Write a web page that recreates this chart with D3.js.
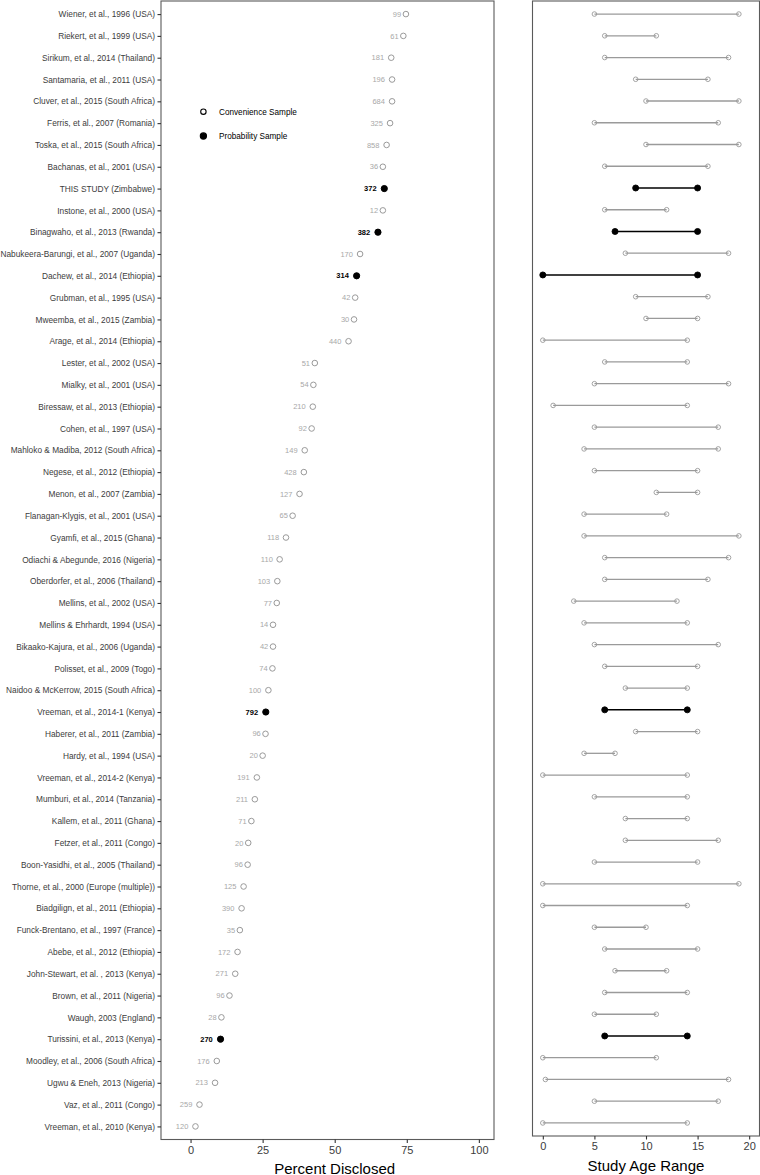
<!DOCTYPE html>
<html><head><meta charset="utf-8">
<script src="https://cdn.jsdelivr.net/npm/d3@7"></script>
<style>body{margin:0;background:#fff;}svg{display:block;font-family:"Liberation Sans",Arial,sans-serif;}</style>
</head><body><svg id="c" width="760" height="1175"></svg>
<script>
const studies = ["Wiener, et al., 1996 (USA)","Riekert, et al., 1999 (USA)","Sirikum, et al., 2014 (Thailand)","Santamaria, et al., 2011 (USA)","Cluver, et al., 2015 (South Africa)","Ferris, et al., 2007 (Romania)","Toska, et al., 2015 (South Africa)","Bachanas, et al., 2001 (USA)","THIS STUDY (Zimbabwe)","Instone, et al., 2000 (USA)","Binagwaho, et al., 2013 (Rwanda)","Nabukeera-Barungi, et al., 2007 (Uganda)","Dachew, et al., 2014 (Ethiopia)","Grubman, et al., 1995 (USA)","Mweemba, et al., 2015 (Zambia)","Arage, et al., 2014 (Ethiopia)","Lester, et al., 2002 (USA)","Mialky, et al., 2001 (USA)","Biressaw, et al., 2013 (Ethiopia)","Cohen, et al., 1997 (USA)","Mahloko & Madiba, 2012 (South Africa)","Negese, et al., 2012 (Ethiopia)","Menon, et al., 2007 (Zambia)","Flanagan-Klygis, et al., 2001 (USA)","Gyamfi, et al., 2015 (Ghana)","Odiachi & Abegunde, 2016 (Nigeria)","Oberdorfer, et al., 2006 (Thailand)","Mellins, et al., 2002 (USA)","Mellins & Ehrhardt, 1994 (USA)","Bikaako-Kajura, et al., 2006 (Uganda)","Polisset, et al., 2009 (Togo)","Naidoo & McKerrow, 2015 (South Africa)","Vreeman, et al., 2014-1 (Kenya)","Haberer, et al., 2011 (Zambia)","Hardy, et al., 1994 (USA)","Vreeman, et al., 2014-2 (Kenya)","Mumburi, et al., 2014 (Tanzania)","Kallem, et al., 2011 (Ghana)","Fetzer, et al., 2011 (Congo)","Boon-Yasidhi, et al., 2005 (Thailand)","Thorne, et al., 2000 (Europe (multiple))","Biadgilign, et al., 2011 (Ethiopia)","Funck-Brentano, et al., 1997 (France)","Abebe, et al., 2012 (Ethiopia)","John-Stewart, et al. , 2013 (Kenya)","Brown, et al., 2011 (Nigeria)","Waugh, 2003 (England)","Turissini, et al., 2013 (Kenya)","Moodley, et al., 2006 (South Africa)","Ugwu & Eneh, 2013 (Nigeria)","Vaz, et al., 2011 (Congo)","Vreeman, et al., 2010 (Kenya)"];
const percentDisclosed = [74.7,73.8,69.6,69.9,69.9,69.2,68.0,66.7,67.2,66.7,65.0,58.8,57.6,57.1,56.7,54.8,43.1,42.6,42.4,42.0,39.6,39.3,37.8,35.4,33.1,30.9,30.1,29.9,28.6,28.6,28.4,27.0,26.1,26.0,25.0,23.0,22.3,21.1,20.0,19.8,18.4,17.7,17.1,16.3,15.5,13.5,10.7,10.4,9.1,8.5,3.1,1.7];
const sampleSize = [99,61,181,196,684,325,858,36,372,12,382,170,314,42,30,440,51,54,210,92,149,428,127,65,118,110,103,77,14,42,74,100,792,96,20,191,211,71,20,96,125,390,35,172,271,96,28,270,176,213,259,120];
const probabilitySample = [0,0,0,0,0,0,0,0,1,0,1,0,1,0,0,0,0,0,0,0,0,0,0,0,0,0,0,0,0,0,0,0,1,0,0,0,0,0,0,0,0,0,0,0,0,0,0,1,0,0,0,0];
const ageMin = [5,6,6,9,10,5,10,6,9,6,7,8,0,9,10,0,6,5,1,5,4,5,11,4,4,6,6,3,4,5,6,8,6,9,4,0,5,8,8,5,0,0,5,6,7,6,5,6,0,0.25,5,0];
const ageMax = [19,11,18,16,19,17,19,16,15,12,15,18,15,16,15,14,14,18,14,17,17,15,15,12,19,18,16,13,14,17,15,14,14,15,7,14,14,14,17,15,19,14,10,15,12,14,11,14,11,18,17,14];
const percentTicks = [0,25,50,75,100];
const ageTicks = [0,5,10,15,20];
const legendLabels = ["Convenience Sample","Probability Sample"];

const rows = studies.map((s,i)=>({study:s,pct:percentDisclosed[i],n:sampleSize[i],prob:probabilitySample[i]===1,lo:ageMin[i],hi:ageMax[i]}));
const svg = d3.select("#c");
const GREY = "#9a9a9a";

// ---------- Left panel ----------
const L = {x0:161, x1:494, y0:1, y1:1139.5};
const xL = d3.scaleLinear().domain([-10.25,105.25]).range([L.x0,L.x1]);
const yL = d3.scalePoint().domain(studies).range([L.y0,L.y1]).padding(0.6);

const gL = svg.append("g");
gL.append("rect").attr("x",L.x0).attr("y",L.y0).attr("width",L.x1-L.x0).attr("height",L.y1-L.y0)
  .attr("fill","none").attr("stroke","#5a5a5a").attr("stroke-width",1.1);

// y axis
const yAx = gL.append("g").attr("transform",`translate(${L.x0},0)`)
  .call(d3.axisLeft(yL).tickSize(3.5).tickPadding(2.5));
yAx.select(".domain").remove();
yAx.selectAll("line").attr("stroke","#333").attr("stroke-width",1.1);
yAx.selectAll("text").attr("font-size","8.3px").attr("fill","#3c3c3c").attr("font-family","Liberation Sans, Arial, sans-serif");

// x axis
const xAx = gL.append("g").attr("transform",`translate(0,${L.y1})`)
  .call(d3.axisBottom(xL).tickValues(percentTicks).tickSize(3.5).tickPadding(3));
xAx.select(".domain").remove();
xAx.selectAll("line").attr("stroke","#333").attr("stroke-width",1.1);
xAx.selectAll("text").attr("font-size","11px").attr("fill","#3c3c3c").attr("font-family","Liberation Sans, Arial, sans-serif");
gL.append("text").attr("x",(xL(0)+xL(100))/2).attr("y",1173.5).attr("text-anchor","middle")
  .attr("font-size","15px").attr("fill","#000").text("Percent Disclosed");

// points
gL.selectAll("circle.pt").data(rows).join("circle").attr("class","pt")
  .attr("cx",d=>xL(d.pct)).attr("cy",d=>yL(d.study))
  .attr("r",d=>d.prob?3.1:2.8)
  .attr("fill",d=>d.prob?"#000":"none")
  .attr("stroke",d=>d.prob?"#000":GREY).attr("stroke-width",1);

// value labels
gL.selectAll("text.val").data(rows).join("text").attr("class","val")
  .attr("y",d=>yL(d.study)).attr("dy","0.35em")
  .attr("font-size","7.5px")
  .attr("font-weight",d=>d.prob?"bold":"normal")
  .attr("fill",d=>d.prob?"#000":"#a8a8a8")
  .attr("text-anchor","end")
  .text(d=>d.n)
  .each(function(d){
    const w = this.getComputedTextLength();
    d3.select(this).attr("x", xL(d.pct) - 0.57*w - (d.prob?0.6:0));
  });

// legend
const leg = gL.append("g");
const legY = [111.7,136];
leg.selectAll("circle").data(legendLabels).join("circle")
  .attr("cx",203.4).attr("cy",(d,i)=>legY[i]).attr("r",(d,i)=>i?3.1:2.7)
  .attr("fill",(d,i)=>i?"#000":"none").attr("stroke","#000").attr("stroke-width",1.1);
leg.selectAll("text").data(legendLabels).join("text")
  .attr("x",219).attr("y",(d,i)=>legY[i]).attr("dy","0.35em")
  .attr("font-size","8.2px").attr("fill","#000").text(d=>d);

// ---------- Right panel ----------
const R = {x0:532.5, x1:759.5, y0:1, y1:1136};
const xR = d3.scaleLinear().domain([-1,21]).range([R.x0,R.x1]);
const yR = d3.scalePoint().domain(studies).range([R.y0,R.y1]).padding(0.6);
const gR = svg.append("g");
gR.append("rect").attr("x",R.x0).attr("y",R.y0).attr("width",R.x1-R.x0).attr("height",R.y1-R.y0)
  .attr("fill","none").attr("stroke","#5a5a5a").attr("stroke-width",1.1);

const xAxR = gR.append("g").attr("transform",`translate(0,${R.y1})`)
  .call(d3.axisBottom(xR).tickValues(ageTicks).tickSize(3.5).tickPadding(3));
xAxR.select(".domain").remove();
xAxR.selectAll("line").attr("stroke","#333").attr("stroke-width",1.1);
xAxR.selectAll("text").attr("font-size","11px").attr("fill","#3c3c3c").attr("font-family","Liberation Sans, Arial, sans-serif");
gR.append("text").attr("x",(xR(0)+xR(20))/2).attr("y",1171).attr("text-anchor","middle")
  .attr("font-size","15px").attr("fill","#000").text("Study Age Range");

gR.selectAll("line.seg").data(rows).join("line").attr("class","seg")
  .attr("x1",d=>xR(d.lo)).attr("x2",d=>xR(d.hi))
  .attr("y1",d=>yR(d.study)).attr("y2",d=>yR(d.study))
  .attr("stroke",d=>d.prob?"#000":GREY).attr("stroke-width",d=>d.prob?1.5:1.3);

const ends = rows.flatMap(d=>[{d,v:d.lo},{d,v:d.hi}]);
gR.selectAll("circle.end").data(ends).join("circle").attr("class","end")
  .attr("cx",e=>xR(e.v)).attr("cy",e=>yR(e.d.study))
  .attr("r",e=>e.d.prob?3:2.3)
  .attr("fill",e=>e.d.prob?"#000":"none")
  .attr("stroke",e=>e.d.prob?"#000":GREY).attr("stroke-width",0.9);
</script></body></html>
